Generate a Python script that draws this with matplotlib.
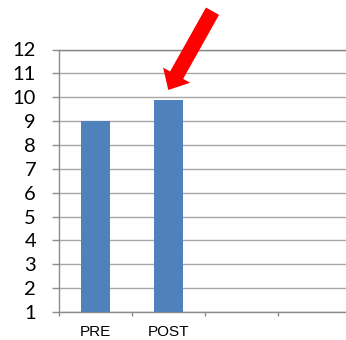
import matplotlib
matplotlib.use("Agg")
import matplotlib.pyplot as plt
import matplotlib.transforms as mtransforms
from matplotlib.patches import FancyArrow

categories = ["PRE", "POST", "", ""]
values = [9.0, 9.9, None, None]
yticks = list(range(1, 13))

W, H, DPI = 346, 340, 100
fig = plt.figure(figsize=(W / DPI, H / DPI), dpi=DPI)
ax = fig.add_axes([59 / W, 28 / H, 292 / W, 262.5 / H])

xs = [i for i, v in enumerate(values) if v is not None]
vs = [v for v in values if v is not None]
ax.bar(xs, vs, width=0.39, color="#4F81BD", zorder=3)

ax.set_xlim(-0.5, len(categories) - 0.5)
ax.set_ylim(1, 12)

# gridlines
ax.set_yticks(yticks)
ax.yaxis.grid(True, color="#a6a6a6", linewidth=1.0, zorder=0)
ax.set_axisbelow(True)

for s in ["right", "top"]:
    ax.spines[s].set_visible(False)
ax.spines["left"].set_color("#8c8c8c")
ax.spines["bottom"].set_color("#8c8c8c")
ax.spines["left"].set_linewidth(1.0)
ax.spines["bottom"].set_linewidth(1.0)
ax.axhline(12, color="#868686", linewidth=1.0, zorder=1, clip_on=False)

ax.tick_params(axis="y", direction="out", length=5, width=1.0, color="#8c8c8c",
               pad=11.5, labelsize=14.5)
for lab in ax.get_yticklabels():
    lab.set_fontfamily(["Lato", "DejaVu Sans"])

# category boundaries as major ticks, labels as minor ticks
ax.set_xticks([i - 0.5 for i in range(len(categories) + 1)])
ax.set_xticklabels([""] * (len(categories) + 1))
ax.set_xticks(list(range(len(categories))), minor=True)
ax.set_xticklabels(categories, minor=True, fontsize=11,
                   fontfamily=["Liberation Sans", "DejaVu Sans"])
ax.tick_params(axis="x", which="major", direction="out", length=3, width=1.0,
               color="#8c8c8c")
ax.tick_params(axis="x", which="minor", length=0, pad=9)

# red arrow (pixel coordinates, image y from top)
pix = mtransforms.Affine2D().scale(1 / DPI) + fig.dpi_scale_trans
tail = (212.5, 11.2)
tip = (168.3, 90.0)
arrow = FancyArrow(tail[0], H - tail[1], tip[0] - tail[0], -(tip[1] - tail[1]),
                   width=15, head_width=31, head_length=17,
                   length_includes_head=True, color="#FF0000", lw=0,
                   transform=pix)
fig.patches.append(arrow)
arrow.set_figure(fig)

fig.savefig("out.png", dpi=DPI)
